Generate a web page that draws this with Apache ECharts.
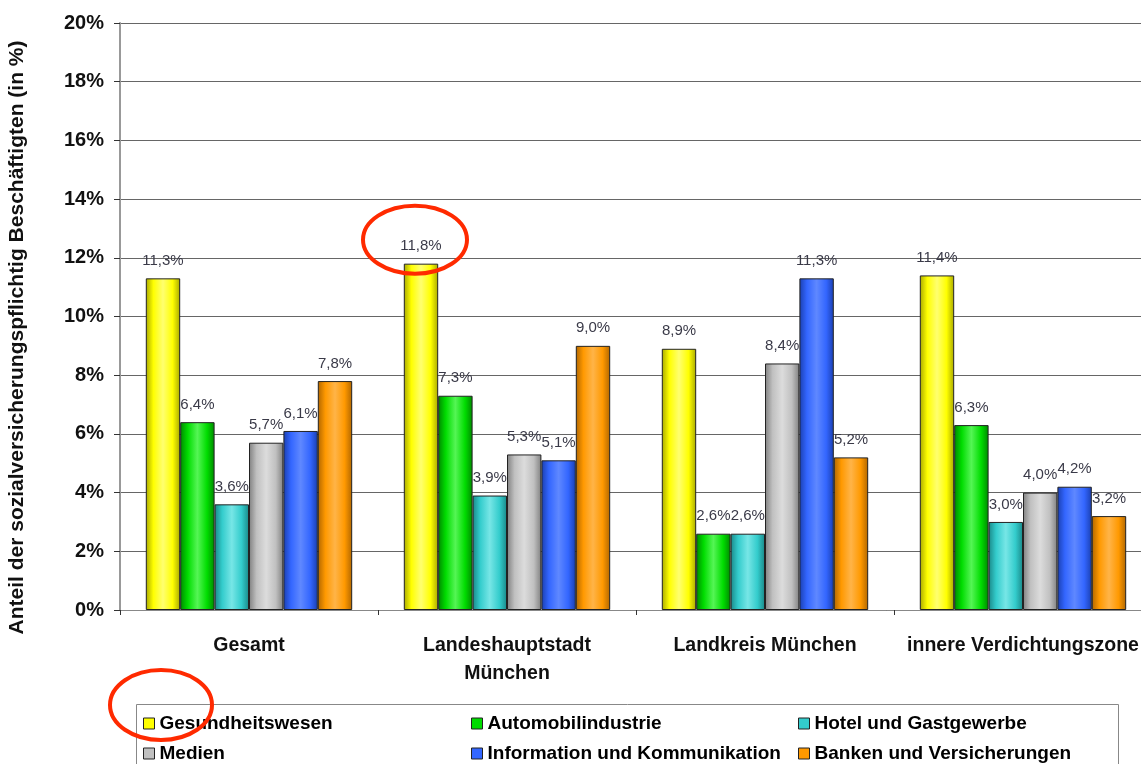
<!DOCTYPE html>
<html>
<head>
<meta charset="utf-8">
<script src="https://cdn.jsdelivr.net/npm/echarts@6/dist/echarts.min.js"></script>
<style>
html,body{margin:0;padding:0;background:#fff;}
#chart{width:1141px;height:764px;}
</style>
</head>
<body>
<div id="chart"></div>
<script>
const categories = ['Gesamt', 'Landeshauptstadt\nMünchen', 'Landkreis München', 'innere Verdichtungszone'];
const seriesNames = ['Gesundheitswesen', 'Automobilindustrie', 'Hotel und Gastgewerbe', 'Medien', 'Information und Kommunikation', 'Banken und Versicherungen'];
const gesundheitswesen = [11.3, 11.8, 8.9, 11.4];
const automobilindustrie = [6.4, 7.3, 2.6, 6.3];
const hotel = [3.6, 3.9, 2.6, 3.0];
const medien = [5.7, 5.3, 8.4, 4.0];
const information = [6.1, 5.1, 11.3, 4.2];
const banken = [7.8, 9.0, 5.2, 3.2];
const seriesValues = [gesundheitswesen, automobilindustrie, hotel, medien, information, banken];
const yTicks = [0, 2, 4, 6, 8, 10, 12, 14, 16, 18, 20];

const baseColors = ['#FFFF00', '#00DD00', '#33CCCC', '#C0C0C0', '#3366FF', '#FF9900'];
const edgeColors = ['#A8A800', '#008800', '#1A8888', '#808080', '#1A3FB0', '#B06600'];
const lightColors = ['#FFFF70', '#55F555', '#77E6E6', '#DCDCDC', '#5F88FF', '#FFB448'];

function grad(i) {
  return new echarts.graphic.LinearGradient(0, 0, 1, 0, [
    {offset: 0, color: edgeColors[i]},
    {offset: 0.22, color: baseColors[i]},
    {offset: 0.5, color: lightColors[i]},
    {offset: 0.78, color: baseColors[i]},
    {offset: 1, color: edgeColors[i]}
  ]);
}

const chart = echarts.init(document.getElementById('chart'), null, {renderer: 'canvas'});
const fontFamily = 'Arial, "Liberation Sans", sans-serif';

const legendCols = [[0, 3], [1, 4], [2, 5]];
const legendLefts = [143, 471, 798];

const option = {
  backgroundColor: '#fff',
  animation: false,
  textStyle: {fontFamily: fontFamily},
  grid: {left: 120, top: 23, width: 1032, bottom: 154, containLabel: false, outerBoundsMode: 'none'},
  legend: legendCols.map((col, k) => ({
    orient: 'vertical',
    left: legendLefts[k],
    top: 714,
    itemGap: 11,
    itemWidth: 11,
    itemHeight: 11,
    icon: 'rect',
    padding: 0,
    textStyle: {fontFamily: fontFamily, fontSize: 19, fontWeight: 'bold', color: '#000', padding: [0, 0, 0, 0]},
    data: col.map(i => ({name: seriesNames[i], itemStyle: {color: baseColors[i], borderColor: '#222', borderWidth: 1}}))
  })),
  xAxis: {
    type: 'category',
    data: categories,
    axisLine: {show: true, lineStyle: {color: '#888', width: 1}},
    axisTick: {show: true, length: 5, lineStyle: {color: '#333'}},
    axisLabel: {
      margin: 22,
      fontFamily: fontFamily,
      fontSize: 19.5,
      fontWeight: 'bold',
      color: '#111',
      lineHeight: 28,
      interval: 0
    },
    splitLine: {show: false}
  },
  yAxis: {
    type: 'value',
    min: 0,
    max: 20,
    interval: 2,
    name: 'Anteil der sozialversicherungspflichtig Beschäftigten (in %)',
    nameLocation: 'middle',
    nameGap: 92,
    nameRotate: 90,
    nameTextStyle: {fontFamily: fontFamily, fontSize: 21, fontWeight: 'bold', color: '#111', padding: [0, 42, 0, 0]},
    axisLine: {show: true, lineStyle: {color: '#999', width: 2}},
    axisTick: {show: true, length: 6, lineStyle: {color: '#333'}},
    axisLabel: {
      margin: 16,
      fontFamily: fontFamily,
      fontSize: 20,
      fontWeight: 'bold',
      color: '#111',
      formatter: v => v + '%'
    },
    splitLine: {show: true, lineStyle: {color: '#666', width: 1}}
  },
  series: seriesNames.map((name, i) => ({
    name: name,
    type: 'bar',
    data: seriesValues[i],
    barGap: '0%',
    barCategoryGap: '20%',
    itemStyle: {color: grad(i), borderColor: '#222', borderWidth: 1},
    label: {
      show: true,
      position: 'top',
      distance: 10,
      fontFamily: fontFamily,
      fontSize: 15,
      color: '#3a3a48',
      formatter: p => p.value.toFixed(1).replace('.', ',') + '%'
    }
  }))
};
chart.setOption(option);

// annotations: legend frame and hand-drawn red ellipses
const p = chart.convertToPixel({xAxisIndex: 0, yAxisIndex: 0}, [1, gesundheitswesen[1]]);
const groupW = chart.getModel().getComponent('xAxis', 0).axis.getBandWidth() * 0.8;
const cx = p[0] - groupW / 2 + groupW / 12;
chart.setOption({
  graphic: [
    {type: 'rect', shape: {x: 136.5, y: 704.5, width: 982, height: 80}, style: {fill: 'none', stroke: '#888', lineWidth: 1}, z: -1},
    {type: 'ellipse', shape: {cx: cx - 6, cy: p[1] - 24, rx: 52, ry: 34}, style: {fill: 'none', stroke: '#FF2a00', lineWidth: 4}, z: 100},
    {type: 'ellipse', shape: {cx: 161, cy: 705, rx: 51, ry: 35}, style: {fill: 'none', stroke: '#FF2a00', lineWidth: 4}, z: 100}
  ]
});
</script>
</body>
</html>
